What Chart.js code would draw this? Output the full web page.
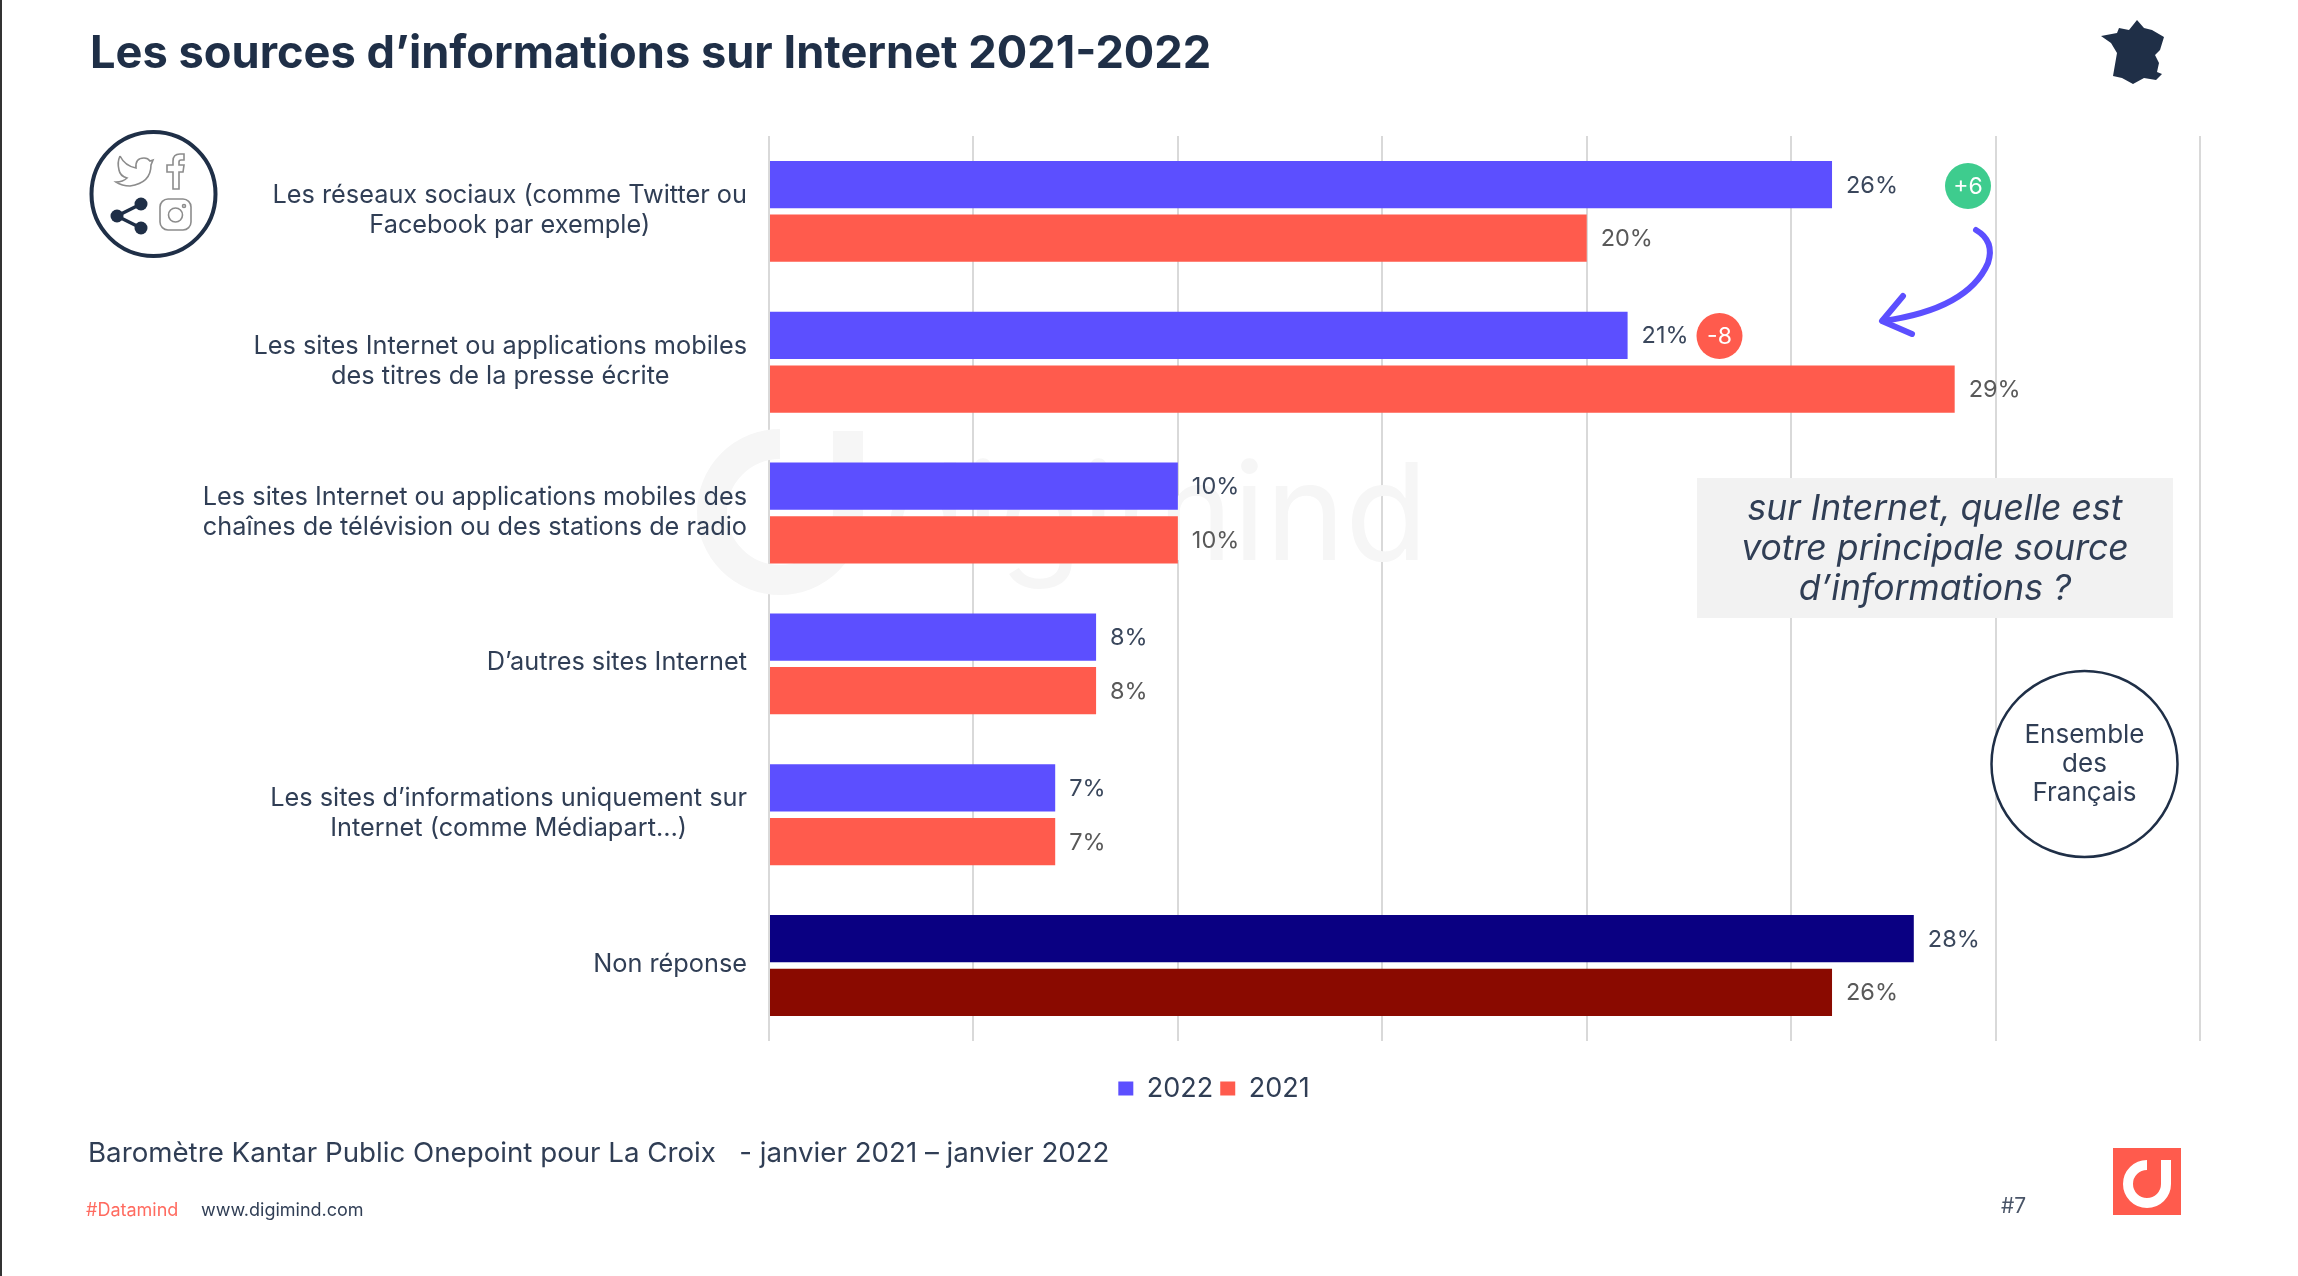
<!DOCTYPE html>
<html lang="fr">
<head>
  <meta charset="UTF-8">
  <script src="https://cdn.jsdelivr.net/npm/chart.js"></script>
  <title>Les sources d’informations sur Internet 2021-2022</title>
  <style>
    html, body { margin: 0; padding: 0; background: #fff; }
    canvas { display: block; }
  </style>
</head>
<body>
  <canvas id="chart" width="2298" height="1276"></canvas>

  <script>
    const categories = [
      ["Les réseaux sociaux (comme Twitter ou", "Facebook par exemple)"],
      ["Les sites Internet ou applications mobiles", "des titres de la presse écrite"],
      ["Les sites Internet ou applications mobiles des", "chaînes de télévision ou des stations de radio"],
      ["D’autres sites Internet"],
      ["Les sites d’informations uniquement sur", "Internet (comme Médiapart…)"],
      ["Non réponse"]
    ];
    const values2022 = [26, 21, 10, 8, 7, 28];
    const values2021 = [20, 29, 10, 8, 7, 26];
    const seriesNames = ["2022", "2021"];
    const axisTicks = [0, 5, 10, 15, 20, 25, 30, 35];

    const FONT = "Inter, 'Noto Sans', sans-serif";
    const NAVY = "#1f2f47";
    const TEXT = "#303e55";
    const BLUE = "#5c4fff";
    const RED = "#ff5b4d";

    function text(ctx, str, x, y, size, color, align, style) {
      ctx.font = (style || "") + " " + size + "px " + FONT;
      ctx.fillStyle = color;
      ctx.textAlign = align || "left";
      ctx.textBaseline = "middle";
      ctx.fillText(str, x, y);
    }

    // the chart's own legend is centred on the page, the slide has it further right and lower
    const moveLegend = {
      id: "moveLegend",
      afterLayout(chart) {
        chart.legend.left += 69;
        chart.legend.right += 69;
        chart.legend.top += 27;
        chart.legend.bottom += 27;
      }
    };

    const watermark = {
      id: "watermark",
      beforeDatasetsDraw(chart) {
        const ctx = chart.ctx;
        ctx.save();
        ctx.strokeStyle = "#f6f6f6";
        ctx.lineWidth = 30;
        ctx.beginPath();
        ctx.arc(780, 512, 68, -Math.PI / 2, 0, true);
        ctx.lineTo(848, 431);
        ctx.stroke();
        ctx.font = "135px " + FONT;
        ctx.fillStyle = "#f6f6f6";
        ctx.textAlign = "right";
        ctx.textBaseline = "alphabetic";
        ctx.fillText("digimind", 1428, 560);
        ctx.restore();
      }
    };

    // category labels: lines centred inside a block that sits against the axis
    const categoryLabels = {
      id: "categoryLabels",
      afterDraw(chart) {
        const ctx = chart.ctx;
        const y = chart.scales.y;
        ctx.save();
        chart.data.labels.forEach((lines, i) => {
          ctx.font = "25.3px " + FONT;
          const w = Math.max(...lines.map(l => ctx.measureText(l).width));
          const cx = 747 - w / 2;
          const cy = y.getPixelForValue(i) - (lines.length - 1) * 15 - 1;
          lines.forEach((l, n) => text(ctx, l, cx, cy + n * 30, 25.3, TEXT, "center"));
        });
        ctx.restore();
      }
    };

    const valueLabels = {
      id: "valueLabels",
      afterDatasetsDraw(chart) {
        const ctx = chart.ctx;
        ctx.save();
        chart.data.datasets.forEach((ds, d) => {
          chart.getDatasetMeta(d).data.forEach((bar, i) => {
            text(ctx, ds.data[i] + "%", bar.x + 14, bar.y + 1, 23.5, d === 0 ? "#3a475c" : "#595959");
          });
        });
        ctx.restore();
      }
    };

    function drawSocialIcon(ctx) {
      ctx.strokeStyle = NAVY;
      ctx.lineWidth = 4;
      ctx.beginPath();
      ctx.arc(153.5, 194, 62, 0, Math.PI * 2);
      ctx.stroke();

      ctx.strokeStyle = "#8c8c8c";
      ctx.lineWidth = 1.6;
      // twitter
      ctx.beginPath();
      ctx.moveTo(120, 156);
      ctx.quadraticCurveTo(125, 166, 136, 168);
      ctx.quadraticCurveTo(135, 158, 144, 158);
      ctx.quadraticCurveTo(148, 158, 150, 161);
      ctx.lineTo(153, 160);
      ctx.lineTo(151, 165);
      ctx.quadraticCurveTo(151, 183, 130, 186);
      ctx.quadraticCurveTo(122, 186, 116, 182);
      ctx.quadraticCurveTo(123, 182, 127, 178);
      ctx.quadraticCurveTo(120, 176, 119, 170);
      ctx.quadraticCurveTo(117, 162, 120, 156);
      ctx.stroke();
      // facebook
      ctx.beginPath();
      ctx.moveTo(173, 189);
      ctx.lineTo(173, 172);
      ctx.lineTo(167, 172);
      ctx.lineTo(167, 165);
      ctx.lineTo(173, 165);
      ctx.lineTo(173, 161);
      ctx.quadraticCurveTo(173, 154, 180, 154);
      ctx.lineTo(184, 154);
      ctx.lineTo(184, 160);
      ctx.lineTo(181, 160);
      ctx.quadraticCurveTo(179, 160, 179, 162);
      ctx.lineTo(179, 165);
      ctx.lineTo(184, 165);
      ctx.lineTo(183, 172);
      ctx.lineTo(179, 172);
      ctx.lineTo(179, 189);
      ctx.closePath();
      ctx.stroke();
      // instagram
      ctx.beginPath();
      ctx.roundRect(160, 199, 31, 31, 8);
      ctx.moveTo(182.5, 215);
      ctx.arc(175.5, 215, 7, 0, Math.PI * 2);
      ctx.moveTo(185.5, 206);
      ctx.arc(184, 206, 1.5, 0, Math.PI * 2);
      ctx.stroke();
      // share
      ctx.strokeStyle = NAVY;
      ctx.fillStyle = NAVY;
      ctx.lineWidth = 3.5;
      ctx.beginPath();
      ctx.moveTo(141, 204);
      ctx.lineTo(117, 216);
      ctx.lineTo(141, 228);
      ctx.stroke();
      [[141, 204], [117, 216], [141, 228]].forEach(p => {
        ctx.beginPath();
        ctx.arc(p[0], p[1], 6.5, 0, Math.PI * 2);
        ctx.fill();
      });
    }

    function drawFrance(ctx) {
      const outline = [[2137, 20], [2144, 28], [2152, 30], [2164, 37], [2160, 50], [2155, 55], [2159, 63],
        [2157, 72], [2162, 74], [2156, 80], [2144, 78], [2133, 84], [2122, 78], [2113, 76], [2117, 53],
        [2111, 43], [2101, 36], [2117, 33], [2119, 28], [2129, 30]];
      ctx.fillStyle = NAVY;
      ctx.beginPath();
      outline.forEach((p, i) => i ? ctx.lineTo(p[0], p[1]) : ctx.moveTo(p[0], p[1]));
      ctx.closePath();
      ctx.fill();
    }

    function drawLogo(ctx) {
      ctx.fillStyle = RED;
      ctx.fillRect(2113, 1148, 68, 67);
      ctx.strokeStyle = "#fff";
      ctx.lineWidth = 10;
      ctx.beginPath();
      ctx.arc(2147, 1184, 19, -Math.PI / 2, 0, true);
      ctx.lineTo(2166, 1160);
      ctx.stroke();
    }

    function drawArrow(ctx) {
      ctx.strokeStyle = BLUE;
      ctx.lineWidth = 6;
      ctx.lineCap = "round";
      ctx.lineJoin = "round";
      ctx.beginPath();
      ctx.moveTo(1976, 230);
      ctx.quadraticCurveTo(1995, 241, 1988, 263);
      ctx.quadraticCurveTo(1968, 309, 1883, 321);
      ctx.stroke();
      ctx.beginPath();
      ctx.moveTo(1903, 296);
      ctx.lineTo(1882, 321);
      ctx.lineTo(1912, 334);
      ctx.stroke();
    }

    const slideExtras = {
      id: "slideExtras",
      afterDraw(chart) {
        const ctx = chart.ctx;
        ctx.save();

        // slide edge
        ctx.fillStyle = "#333";
        ctx.fillRect(0, 0, 2, 1276);

        drawSocialIcon(ctx);
        drawFrance(ctx);
        drawLogo(ctx);
        drawArrow(ctx);

        // evolution badges
        [[1968, 186, "#3ecc8e", "+6"], [1719.5, 336, RED, "-8"]].forEach(b => {
          ctx.fillStyle = b[2];
          ctx.beginPath();
          ctx.arc(b[0], b[1], 23, 0, Math.PI * 2);
          ctx.fill();
          text(ctx, b[3], b[0], b[1] + 1, 23, "#fff", "center");
        });

        // question box
        ctx.fillStyle = "#f2f2f2";
        ctx.fillRect(1697, 478, 476, 140);
        text(ctx, "sur Internet, quelle est", 1935, 509, 35.6, TEXT, "center", "italic");
        text(ctx, "votre principale source", 1935, 549, 35.6, TEXT, "center", "italic");
        text(ctx, "d’informations ?", 1935, 589, 35.6, TEXT, "center", "italic");

        // population circle
        ctx.fillStyle = "#fff";
        ctx.strokeStyle = NAVY;
        ctx.lineWidth = 2.5;
        ctx.beginPath();
        ctx.arc(2084.5, 764, 93, 0, Math.PI * 2);
        ctx.fill();
        ctx.stroke();
        text(ctx, "Ensemble", 2084.5, 735, 26, TEXT, "center");
        text(ctx, "des", 2084.5, 764, 26, TEXT, "center");
        text(ctx, "Français", 2084.5, 793, 26, TEXT, "center");

        // footer
        text(ctx, "Baromètre Kantar Public Onepoint pour La Croix   - janvier 2021 – janvier 2022", 88, 1154, 27.7, TEXT);
        text(ctx, "#Datamind", 86, 1211, 18, "#ff6b60");
        text(ctx, "www.digimind.com", 201, 1211, 18, TEXT);
        text(ctx, "#7", 2001, 1207, 21, "#4a5568");

        ctx.restore();
      }
    };

    new Chart(document.getElementById("chart"), {
      type: "bar",
      data: {
        labels: categories,
        datasets: [
          {
            label: seriesNames[0],
            data: values2022,
            backgroundColor: c => c.dataIndex === 5 ? "#0a0082" : BLUE,
            categoryPercentage: 0.712,
            barPercentage: 0.88
          },
          {
            label: seriesNames[1],
            data: values2021,
            backgroundColor: c => c.dataIndex === 5 ? "#8a0a00" : RED,
            categoryPercentage: 0.712,
            barPercentage: 0.88
          }
        ]
      },
      options: {
        indexAxis: "y",
        responsive: false,
        animation: false,
        devicePixelRatio: 1,
        layout: { padding: { left: 90, right: 98, top: 27.6, bottom: 191 } },
        scales: {
          x: {
            min: axisTicks[0],
            max: axisTicks[axisTicks.length - 1],
            ticks: { display: false, stepSize: 5 },
            border: { display: false },
            grid: { color: "#d9d9d9", lineWidth: 2, drawTicks: false }
          },
          y: {
            ticks: { display: false },
            border: { display: false },
            grid: { display: false },
            afterFit(scale) { scale.width = 679; }
          }
        },
        plugins: {
          tooltip: { enabled: false },
          title: {
            display: true,
            text: "Les sources d’informations sur Internet 2021-2022",
            align: "start",
            color: NAVY,
            font: { family: FONT, size: 45.2, weight: "bold", lineHeight: 1.2 },
            padding: { top: 0, bottom: 54.1 }
          },
          legend: {
            position: "bottom",
            labels: {
              boxWidth: 15,
              boxHeight: 14,
              padding: 7,
              color: TEXT,
              font: { family: FONT, size: 27 }
            }
          }
        }
      },
      plugins: [moveLegend, watermark, valueLabels, categoryLabels, slideExtras]
    });
  </script>
</body>
</html>
